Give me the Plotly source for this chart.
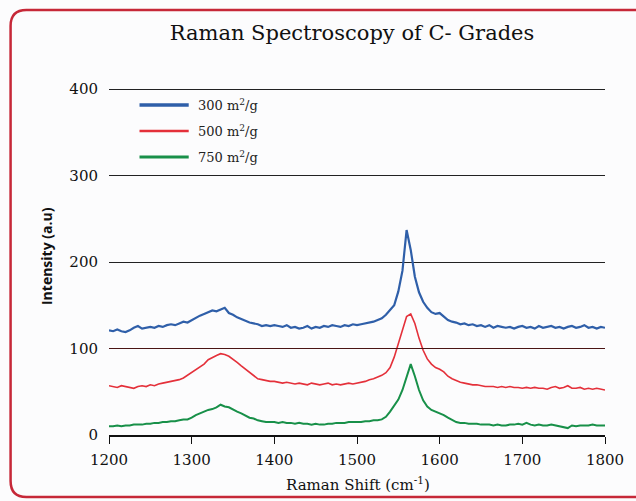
import numpy as np
import plotly.graph_objects as go

# ---------------- data ----------------
wavenumber = list(range(1200, 1801, 5))

s300 = [121, 120, 122, 120, 119, 121, 124, 126, 123, 124, 125, 124, 126, 125, 127, 128, 127, 129, 131, 130, 133,
        135, 138, 140, 142, 144, 143, 145, 147, 141, 139, 136, 134, 132, 130, 129, 128, 126, 127, 126, 127,
        126, 125, 127, 124, 125, 123, 124, 126, 123, 125, 124, 126, 125, 127, 126, 125, 127, 126, 128, 127,
        128, 129, 130, 131, 133, 135, 139, 144, 150, 166, 190, 237, 214, 183, 165, 154, 147, 142, 140, 141,
        137, 133, 131, 130, 128, 129, 127, 128, 126, 127, 125, 127, 124, 126, 125, 124, 125, 123, 125, 126,
        124, 125, 123, 126, 124, 125, 126, 124, 125, 123, 125, 126, 124, 125, 127, 124, 125, 123, 125, 124]

s500 = [57, 56, 55, 57, 56, 55, 54, 56, 57, 56, 58, 57, 59, 60, 61, 62, 63, 64, 66, 69, 72,
        75, 78, 82, 87, 90, 92, 94, 93, 91, 88, 84, 80, 76, 72, 68, 65, 64, 63, 62, 62,
        61, 60, 61, 60, 59, 60, 59, 58, 60, 59, 58, 59, 60, 58, 59, 58, 59, 60, 59, 60,
        61, 62, 64, 65, 67, 69, 72, 78, 90, 106, 124, 137, 140, 129, 112, 98, 88, 82, 78, 76,
        73, 68, 65, 63, 61, 60, 59, 58, 58, 57, 56, 56, 56, 55, 56, 55, 56, 55, 55, 54,
        55, 54, 55, 54, 54, 53, 55, 56, 54, 55, 57, 54, 54, 55, 53, 54, 53, 54, 53, 52]

s750 = [10, 10, 11, 10, 11, 11, 12, 12, 12, 13, 13, 14, 14, 15, 15, 16, 16, 17, 18, 18, 20,
        23, 25, 27, 29, 30, 32, 35, 33, 32, 29, 27, 25, 22, 20, 19, 17, 16, 15, 15, 15,
        14, 15, 14, 14, 13, 14, 13, 13, 12, 13, 12, 12, 13, 13, 14, 14, 14, 15, 15, 15,
        15, 16, 16, 17, 17, 18, 21, 27, 34, 41, 52, 66, 82, 68, 52, 40, 33, 29, 27, 25,
        23, 20, 17, 15, 14, 14, 13, 13, 13, 12, 12, 12, 11, 12, 11, 11, 12, 12, 13, 12,
        14, 12, 11, 12, 11, 11, 12, 11, 10, 9, 8, 11, 10, 11, 11, 11, 12, 11, 11, 11]

series_names = ["300 m<sup>2</sup>/g", "500 m<sup>2</sup>/g", "750 m<sup>2</sup>/g"]
series_values = [s300, s500, s750]
series_colors = ["#2f5fa9", "#e4303a", "#189049"]
series_widths = [2.2, 1.6, 2.0]

x_ticks = [1200, 1300, 1400, 1500, 1600, 1700, 1800]
y_ticks = [0, 100, 200, 300, 400]

# ---------------- figure ----------------
W, H = 636, 501
L, R, T, B = 109, 23, 88, 66
pw, ph = W - L - R, H - T - B

def px(xp):
    return (xp - L) / pw

def py(yp):
    return (H - B - yp) / ph

fig = go.Figure()
for name, vals, col, lw in zip(series_names, series_values, series_colors, series_widths):
    fig.add_trace(go.Scatter(x=wavenumber, y=vals, mode="lines", name=name,
                             line=dict(color=col, width=lw), showlegend=False))

serif = "DejaVu Serif"

shapes = []
# rounded red frame (right side runs off the page)
x0, x1 = px(9), px(680)
y0, y1 = py(10), py(497)
rx, ry = 16 / pw, 16 / ph
path = (f"M {x0+rx},{y0} L {x1},{y0} L {x1},{y1} L {x0+rx},{y1} "
        f"Q {x0},{y1} {x0},{y1+ry} L {x0},{y0-ry} Q {x0},{y0} {x0+rx},{y0} Z")
shapes.append(dict(type="path", path=path, xref="paper", yref="paper",
                   line=dict(color="#c62838", width=2.5), fillcolor="rgba(0,0,0,0)", layer="below"))
# darker reddish line at 100
shapes.append(dict(type="line", xref="paper", yref="y", x0=0, x1=1, y0=100, y1=100,
                   line=dict(color="#4a1414", width=1.2)))

annotations = []
# manual legend
leg_y = [105, 131, 157]
for name, col, lw, yy in zip(series_names, series_colors, [3.5, 2.5, 3], leg_y):
    shapes.append(dict(type="line", xref="paper", yref="paper", x0=px(140), x1=px(190),
                       y0=py(yy), y1=py(yy), line=dict(color=col, width=lw)))
    annotations.append(dict(text=name, xref="paper", yref="paper", x=px(197), y=py(yy),
                            xanchor="left", yanchor="middle", showarrow=False,
                            font=dict(family=serif, size=13, color="#222")))

annotations.append(dict(text="Raman Shift (cm<sup>-1</sup>)", xref="paper", yref="paper",
                        x=px(362), y=py(484), xanchor="center", yanchor="middle", showarrow=False,
                        font=dict(family=serif, size=15, color="#111")))
annotations.append(dict(text="<b>Intensity (a.u)</b>", xref="paper", yref="paper",
                        x=px(45), y=py(256), xanchor="center", yanchor="middle", showarrow=False,
                        textangle=-90, font=dict(family="Open Sans", size=14, color="#111")))

fig.update_layout(
    width=W, height=H,
    margin=dict(l=L, r=R, t=T, b=B, pad=0),
    paper_bgcolor="#fcfcfd", plot_bgcolor="#fcfcfd",
    title=dict(text="Raman Spectroscopy of C- Grades", x=352 / W, xanchor="center",
               y=1 - 33 / H, yanchor="middle",
               font=dict(family=serif, size=21, color="#111")),
    shapes=shapes, annotations=annotations,
    showlegend=False,
)
fig.update_xaxes(range=[1200, 1800], tickvals=x_ticks, ticks="outside", ticklen=7,
                 tickcolor="#111", showline=True, linecolor="#111", linewidth=1.5,
                 showgrid=False, zeroline=False, ticklabelstandoff=3,
                 tickfont=dict(family=serif, size=15, color="#111"))
fig.update_yaxes(range=[0, 401.2], tickvals=y_ticks, showgrid=True, gridcolor="#222", gridwidth=1.2,
                 zeroline=False, showline=False, ticks="", ticklabelstandoff=10,
                 tickfont=dict(family=serif, size=15, color="#111"))

fig.write_html("out.html")
